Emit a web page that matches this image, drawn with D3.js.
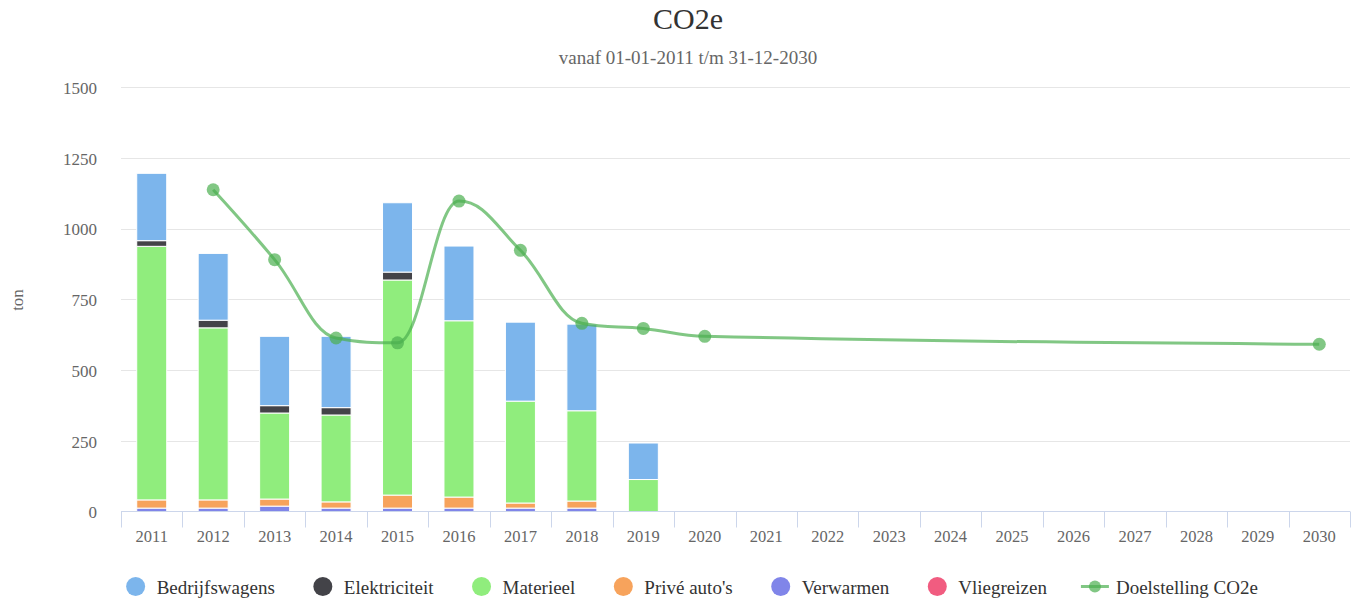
<!DOCTYPE html>
<html>
<head>
<meta charset="utf-8">
<title>CO2e</title>
<script src="https://d3js.org/d3.v7.min.js"></script>
<style>
  body { margin: 0; background: #fff; }
  svg text { font-family: "Liberation Serif", "Times New Roman", serif; }
</style>
</head>
<body>
<div id="chart"></div>
<script>
// data
var years = ["2011","2012","2013","2014","2015","2016","2017","2018","2019","2020",
             "2021","2022","2023","2024","2025","2026","2027","2028","2029","2030"];
var bedrijfswagens = [238, 236, 245, 252, 245, 264, 279, 306, 129, 0, 0,0,0,0,0,0,0,0,0,0];
var elektriciteit  = [ 20,  27,  26,  26,  28,   0,   0,   0,   0, 0, 0,0,0,0,0,0,0,0,0,0];
var materieel      = [896, 608, 304, 307, 760, 623, 360, 319, 113, 0, 0,0,0,0,0,0,0,0,0,0];
var priveAutos     = [ 29,  29,  25,  22,  46,  39,  18,  25,   0, 0, 0,0,0,0,0,0,0,0,0,0];
var verwarmen      = [ 12,  12,  19,  12,  12,  12,  12,  12,   0, 0, 0,0,0,0,0,0,0,0,0,0];
var vliegreizen    = [  0,   0,   0,   0,   0,   0,   0,   0,   0, 0, 0,0,0,0,0,0,0,0,0,0];
var doelstelling   = [null, 1137, 890, 613, 596, 1097, 923, 665, 647, 619,
                      null,null,null,null,null,null,null,null,null, 591];
var yTicks = [0, 250, 500, 750, 1000, 1250, 1500];

var seriesNames = ["Bedrijfswagens","Elektriciteit","Materieel","Privé auto's","Verwarmen","Vliegreizen"];
var seriesData = [bedrijfswagens, elektriciteit, materieel, priveAutos, verwarmen, vliegreizen];
var colors = ["#7cb5ec","#434348","#90ed7d","#f7a35c","#8085e9","#f15c80"];
var lineColor = "#4caf50";

var width = 1361, height = 605;
var plotLeft = 121, plotRight = 1350, plotTop = 87, plotBottom = 511.5;

var svg = d3.select("#chart").append("svg")
    .attr("width", width).attr("height", height);

var x = d3.scaleBand().domain(years).range([plotLeft, plotRight]).padding(0);
var y = d3.scaleLinear().domain([0, 1500]).range([plotBottom, plotTop]);

// titles
svg.append("text").attr("x", 688).attr("y", 29).attr("text-anchor", "middle")
    .attr("font-size", 30).attr("fill", "#333").text("CO2e");
svg.append("text").attr("x", 688).attr("y", 64).attr("text-anchor", "middle")
    .attr("font-size", 19).attr("fill", "#666").text("vanaf 01-01-2011 t/m 31-12-2030");

// grid lines
svg.append("g").selectAll("line").data(yTicks.filter(function(d){ return d > 0; }))
  .enter().append("line")
    .attr("x1", plotLeft).attr("x2", plotRight)
    .attr("y1", function(d){ return Math.round(y(d)) + 0.5; })
    .attr("y2", function(d){ return Math.round(y(d)) + 0.5; })
    .attr("stroke", "#e6e6e6").attr("stroke-width", 1);

// y axis labels
var yAxis = d3.axisLeft(y).tickValues(yTicks).tickFormat(d3.format("d")).tickSize(0).tickPadding(0);
var gy = svg.append("g").attr("transform", "translate(97,0)").call(yAxis);
gy.select(".domain").remove();
gy.selectAll("text").attr("font-size", 17).attr("fill", "#666")
    .attr("font-family", "Liberation Serif, Times New Roman, serif")
    .attr("dy", "0.38em");

svg.append("text")
    .attr("transform", "translate(23,300) rotate(-90)")
    .attr("text-anchor", "middle").attr("font-size", 17).attr("fill", "#666")
    .text("ton");

// stacked bars, first series on top
var rows = years.map(function(yr, i) {
  var r = { year: yr };
  seriesNames.forEach(function(n, j){ r[n] = seriesData[j][i]; });
  return r;
});
var stack = d3.stack().keys(seriesNames.slice().reverse());
var stacked = stack(rows);
var barW = 30;

svg.append("g").selectAll("g").data(stacked).enter().append("g")
    .attr("fill", function(d){ return colors[seriesNames.indexOf(d.key)]; })
  .selectAll("rect").data(function(d){ return d.filter(function(p){ return p[1] - p[0] > 0; }); })
  .enter().append("rect")
    .attr("x", function(d){ return x(d.data.year) + x.bandwidth() / 2 - barW / 2; })
    .attr("width", barW)
    .attr("y", function(d){ return y(d[1]); })
    .attr("height", function(d){ return y(d[0]) - y(d[1]); })
    .attr("stroke", "#fff").attr("stroke-width", 1);

// x axis
var xAxis = d3.axisBottom(x).tickSize(0).tickPadding(0);
var gx = svg.append("g").attr("transform", "translate(0," + plotBottom + ")").call(xAxis);
gx.select(".domain").remove();
gx.selectAll("text").attr("font-size", 16.5).attr("fill", "#666")
    .attr("font-family", "Liberation Serif, Times New Roman, serif")
    .attr("dy", 0).attr("y", 30);
svg.append("line").attr("x1", plotLeft).attr("x2", plotRight)
    .attr("y1", plotBottom).attr("y2", plotBottom).attr("stroke", "#ccd6eb");
var edges = years.map(function(yr){ return x(yr); }).concat([plotRight]);
svg.append("g").selectAll("line").data(edges).enter().append("line")
    .attr("x1", function(d){ return Math.round(d) + 0.5; })
    .attr("x2", function(d){ return Math.round(d) + 0.5; })
    .attr("y1", plotBottom).attr("y2", plotBottom + 16)
    .attr("stroke", "#ccd6eb");

// target line, spline like the original chart
var pts = [];
doelstelling.forEach(function(v, i) {
  if (v !== null) pts.push({ px: x(years[i]) + x.bandwidth() / 2, py: y(v) });
});
function splinePath(p) {
  var d = "M" + p[0].px + "," + p[0].py;
  var sm = 1.5, den = 2.5;
  for (var i = 1; i < p.length; i++) {
    var pt = p[i], last = p[i - 1], next = p[i + 1];
    var lcx, lcy, rcx, rcy;
    if (next) {
      lcx = (sm * pt.px + last.px) / den; lcy = (sm * pt.py + last.py) / den;
      rcx = (sm * pt.px + next.px) / den; rcy = (sm * pt.py + next.py) / den;
      if (rcx !== lcx) {
        var corr = ((rcy - lcy) * (rcx - pt.px)) / (rcx - lcx) + pt.py - rcy;
        lcy += corr; rcy += corr;
      }
      if (lcy > last.py && lcy > pt.py) { lcy = Math.max(last.py, pt.py); rcy = 2 * pt.py - lcy; }
      else if (lcy < last.py && lcy < pt.py) { lcy = Math.min(last.py, pt.py); rcy = 2 * pt.py - lcy; }
      if (rcy > next.py && rcy > pt.py) { rcy = Math.max(next.py, pt.py); lcy = 2 * pt.py - rcy; }
      else if (rcy < next.py && rcy < pt.py) { rcy = Math.min(next.py, pt.py); lcy = 2 * pt.py - rcy; }
      pt.rcx = rcx; pt.rcy = rcy;
    } else {
      lcx = pt.px; lcy = pt.py;
    }
    d += "C" + (last.rcx !== undefined ? last.rcx : last.px) + "," + (last.rcy !== undefined ? last.rcy : last.py) +
         "," + lcx + "," + lcy + "," + pt.px + "," + pt.py;
  }
  return d;
}
svg.append("path").attr("d", splinePath(pts))
    .attr("fill", "none").attr("stroke", lineColor).attr("stroke-width", 3)
    .attr("stroke-opacity", 0.7);
svg.append("g").selectAll("circle").data(pts).enter().append("circle")
    .attr("cx", function(d){ return d.px; }).attr("cy", function(d){ return d.py; })
    .attr("r", 6.5).attr("fill", lineColor).attr("fill-opacity", 0.7);

// legend
var legendNames = seriesNames.concat(["Doelstelling CO2e"]);
var gap = 48;
var lg = svg.append("g");
var items = lg.selectAll("g").data(legendNames).enter().append("g");
items.append("text").attr("x", 21).attr("y", 7).attr("font-size", 19)
    .attr("fill", "#333").text(function(d){ return d; });
var xpos = 0;
items.each(function(d, i) {
  var w = this.querySelector("text").getComputedTextLength();
  d3.select(this).attr("transform", "translate(" + xpos + ",586.5)");
  xpos += 21 + w + gap;
});
var total = xpos - gap + 9.5;
lg.attr("transform", "translate(" + (692 - total / 2 + 9.5) + ",0)");
items.filter(function(d, i){ return i < 6; }).append("circle")
    .attr("r", 9.5).attr("fill", function(d, i){ return colors[i]; });
var li = items.filter(function(d, i){ return i === 6; });
li.append("line").attr("x1", -14).attr("x2", 14)
    .attr("stroke", lineColor).attr("stroke-width", 3).attr("stroke-opacity", 0.7);
li.append("circle").attr("r", 6).attr("fill", lineColor).attr("fill-opacity", 0.7);
</script>
</body>
</html>
